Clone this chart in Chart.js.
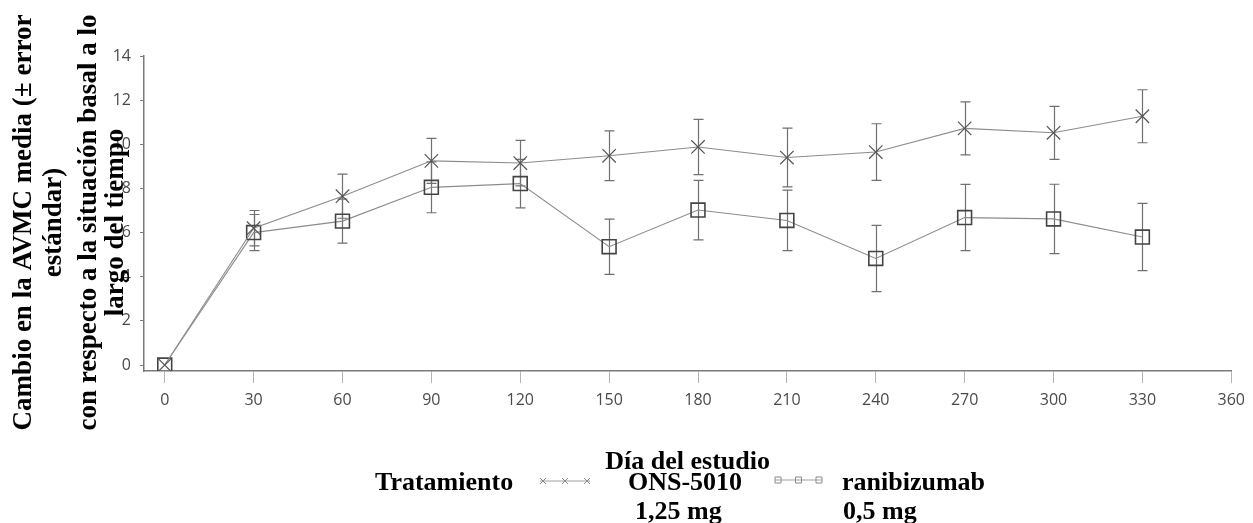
<!DOCTYPE html>
<html>
<head>
<meta charset="utf-8">
<script src="https://cdn.jsdelivr.net/npm/chart.js@4.4.1/dist/chart.umd.min.js"></script>
<style>
  html, body { margin: 0; padding: 0; background: #ffffff; }
  #wrap { width: 1253px; height: 523px; position: relative; }
</style>
</head>
<body>
<div id="wrap"><canvas id="c" width="1253" height="523"></canvas></div>
<script>
// ---- Data ----
const days = [0, 30, 60, 90, 120, 150, 180, 210, 240, 270, 300, 330];
const onsMean = [0, 6.2, 7.65, 9.25, 9.15, 9.48, 9.88, 9.4, 9.65, 10.72, 10.52, 11.27];
const onsErr = [0, 0.8, 1.0, 1.02, 1.03, 1.13, 1.25, 1.33, 1.28, 1.2, 1.2, 1.2];
const raniMean = [0, 6.0, 6.52, 8.05, 8.22, 5.36, 7.02, 6.55, 4.83, 6.68, 6.62, 5.8];
const raniErr = [0, 0.82, 1.0, 1.15, 1.1, 1.25, 1.35, 1.37, 1.5, 1.5, 1.57, 1.52];
const xTicks = [0, 30, 60, 90, 120, 150, 180, 210, 240, 270, 300, 330, 360];
const yTicks = [0, 2, 4, 6, 8, 10, 12, 14];
const yTitleLines = ['Cambio en la AVMC media (± error', 'estándar)', 'con respecto a la situación basal a lo', 'largo del tiempo'];
const xTitle = 'Día del estudio';
const legendTitle = 'Tratamiento';
const seriesNames = [['ONS-5010', '1,25 mg'], ['ranibizumab', '0,5 mg']];

const SERIF = '"Liberation Serif", "Times New Roman", serif';
const SANS = '"Open Sans", "Noto Sans", sans-serif';

function toPts(xs, ys) { return xs.map((x, i) => ({ x: x, y: ys[i] })); }

const errorBarPlugin = {
  id: 'errorBars',
  beforeDatasetsDraw(chart) {
    const ctx = chart.ctx;
    const ys = chart.scales.y;
    const errs = [onsErr, raniErr];
    const means = [onsMean, raniMean];
    ctx.save();
    ctx.strokeStyle = '#707070';
    ctx.lineWidth = 1.2;
    chart.data.datasets.forEach((ds, di) => {
      const meta = chart.getDatasetMeta(di);
      meta.data.forEach((pt, i) => {
        const e = errs[di][i];
        if (!e) return;
        const top = ys.getPixelForValue(means[di][i] + e);
        const bot = ys.getPixelForValue(means[di][i] - e);
        const x = Math.round(pt.x) + 0.5;
        ctx.beginPath();
        ctx.moveTo(x, top); ctx.lineTo(x, bot);
        ctx.moveTo(x - 5, top); ctx.lineTo(x + 5, top);
        ctx.moveTo(x - 5, bot); ctx.lineTo(x + 5, bot);
        ctx.stroke();
      });
    });
    ctx.restore();
  }
};

const textPlugin = {
  id: 'texts',
  afterDraw(chart) {
    const ctx = chart.ctx;
    const ca = chart.chartArea;
    ctx.save();
    ctx.fillStyle = '#000';
    // Y title (rotated)
    ctx.font = 'bold 27px ' + SERIF;
    const baselines = [31, 61, 96, 123];
    const cy = (ca.top + ca.bottom) / 2 + 9;
    yTitleLines.forEach((t, i) => {
      ctx.save();
      ctx.translate(baselines[i], cy);
      ctx.rotate(-Math.PI / 2);
      ctx.textAlign = 'center';
      ctx.textBaseline = 'alphabetic';
      ctx.fillText(t, 0, 0);
      ctx.restore();
    });
    ctx.font = 'bold 26px ' + SERIF;
    // X title
    ctx.textAlign = 'center';
    ctx.textBaseline = 'alphabetic';
    ctx.fillText(xTitle, (ca.left + ca.right) / 2, 469);
    // Legend
    ctx.textAlign = 'left';
    ctx.fillText(legendTitle, 375, 490);
    ctx.fillText(seriesNames[0][0], 628, 490);
    ctx.fillText(seriesNames[0][1], 635, 519);
    ctx.fillText(seriesNames[1][0], 842, 490);
    ctx.fillText(seriesNames[1][1], 843, 519);
    // legend samples
    const drawSample = (x0, x1, y, style) => {
      ctx.save();
      ctx.strokeStyle = '#a0a0a0';
      ctx.lineWidth = 1;
      ctx.beginPath(); ctx.moveTo(x0, y); ctx.lineTo(x1, y); ctx.stroke();
      ctx.strokeStyle = '#8a8a8a';
      [x0 + 3, (x0 + x1) / 2, x1 - 3].forEach(px => {
        ctx.beginPath();
        if (style === 'x') {
          ctx.moveTo(px - 3, y - 3); ctx.lineTo(px + 3, y + 3);
          ctx.moveTo(px + 3, y - 3); ctx.lineTo(px - 3, y + 3);
        } else {
          ctx.rect(px - 3, y - 3, 6, 6);
        }
        ctx.stroke();
      });
      ctx.restore();
    };
    drawSample(540, 590, 481, 'x');
    drawSample(775, 822, 480, 'rect');
    ctx.restore();
  }
};

const ctx = document.getElementById('c').getContext('2d');
new Chart(ctx, {
  type: 'line',
  data: {
    datasets: [
      {
        label: 'ONS-5010 1,25 mg',
        data: toPts(days, onsMean),
        borderColor: '#8c8c8c',
        borderWidth: 1.1,
        pointStyle: 'crossRot',
        pointRadius: 9.5,
        pointBorderColor: '#555',
        pointBorderWidth: 1.2,
        pointBackgroundColor: 'rgba(0,0,0,0)',
        tension: 0,
        fill: false
      },
      {
        label: 'ranibizumab 0,5 mg',
        data: toPts(days, raniMean),
        borderColor: '#8c8c8c',
        borderWidth: 1.1,
        pointStyle: 'rect',
        pointRadius: 9.8,
        pointBorderColor: '#444',
        pointBorderWidth: 1.6,
        pointBackgroundColor: 'rgba(0,0,0,0)',
        tension: 0,
        fill: false
      }
    ]
  },
  options: {
    responsive: false,
    animation: false,
    devicePixelRatio: 1,
    layout: { padding: { left: 0, right: 16, top: 56, bottom: 0 } },
    plugins: { legend: { display: false }, tooltip: { enabled: false }, title: { display: false } },
    scales: {
      x: {
        type: 'linear',
        min: -7,
        max: 360,
        afterBuildTicks(scale) { scale.ticks = xTicks.map(v => ({ value: v })); },
        afterFit(scale) { scale.height = 152; },
        ticks: { color: '#4a4a4a', font: { family: SANS, size: 16 }, padding: 8, maxRotation: 0 },
        grid: { drawOnChartArea: false, drawTicks: true, tickLength: 12, color: '#b5b5b5' },
        border: { color: '#7a7a7a', width: 1.5 }
      },
      y: {
        type: 'linear',
        min: -0.27,
        max: 14,
        afterBuildTicks(scale) { scale.ticks = yTicks.map(v => ({ value: v })); },
        afterFit(scale) { scale.width = 144; },
        ticks: { color: '#4a4a4a', font: { family: SANS, size: 16 }, padding: 9 },
        grid: { drawOnChartArea: false, drawTicks: true, tickLength: 4, color: '#7a7a7a' },
        border: { color: '#7a7a7a', width: 1.5 }
      }
    }
  },
  plugins: [errorBarPlugin, textPlugin]
});
</script>
</body>
</html>
